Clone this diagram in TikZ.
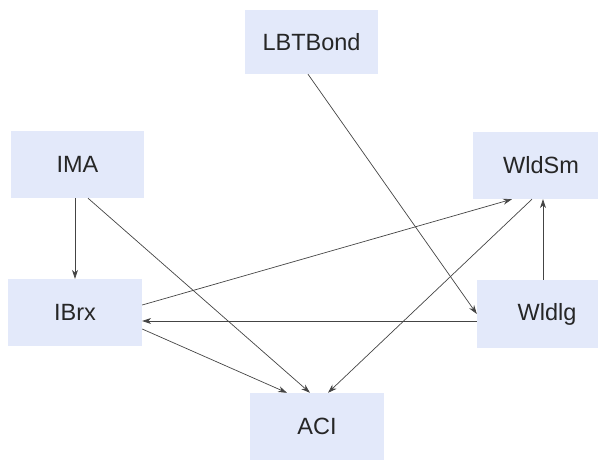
\documentclass[tikz,border=0pt]{standalone}
\usepackage{fontspec}
\setmainfont{Liberation Sans}
\usetikzlibrary{arrows.meta}

\definecolor{boxfill}{HTML}{E3E9FA}
\definecolor{edgegray}{HTML}{444444}

\begin{document}
\begin{tikzpicture}[x=1pt, y=-1pt,
  box/.style={fill=boxfill, inner sep=0pt, text=black!85,
    font=\fontsize{23.5}{28}\selectfont},
  link/.style={edgegray, line width=0.7pt, -{Stealth[length=9pt, width=6pt]}}]

\useasboundingbox (0,0) rectangle (598,460);
\clip (0,0) rectangle (598,460);

\node (lbt) at (311.5, 42) [box, minimum width=133, minimum height=64] {LBTBond};
\node (ima) at (77.5, 164.5) [box, minimum width=133, minimum height=67] {IMA};
\node (ibrx) at (75, 312.5) [box, minimum width=134, minimum height=67] {IBrx};
\node (wldsm) at (541, 165.5) [box, minimum width=136, minimum height=67] {WldSm};
\node (wldlg) at (547, 314) [box, minimum width=140, minimum height=68] {Wldlg};
\node (aci) at (317, 426.5) [box, minimum width=134, minimum height=67] {ACI};

\draw [link] (ima.south -| ibrx.north) -- (ibrx.north);
\draw [link] ([xshift=10.5]ima.south) -- ([xshift=-7]aci.north);
\draw [link] ([xshift=-3.5]lbt.south) -- (wldlg.west);
\draw [link] ([yshift=7.5]ibrx.east) -- ([xshift=-29]wldsm.south);
\draw [link] ([xshift=-9]wldsm.south) -- ([xshift=11]aci.north);
\draw [link] ([xshift=-4]wldlg.north) -- ([xshift=-4]wldlg.north |- wldsm.south);
\draw [link] ([yshift=-7]wldlg.west) -- ([yshift=-7]wldlg.west -| ibrx.east);
\draw [link] ([yshift=-16.5]ibrx.east) -- ([xshift=-30]aci.north);
\end{tikzpicture}
\end{document}
